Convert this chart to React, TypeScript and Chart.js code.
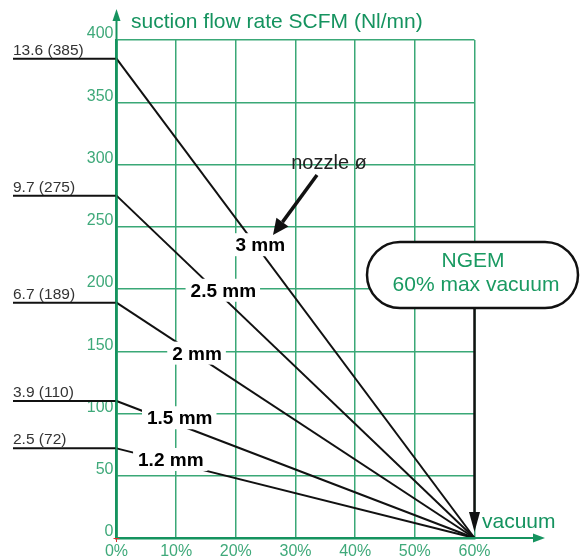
import React, { useEffect, useRef } from "react";
import { Chart, registerables } from "chart.js";

Chart.register(...registerables);

// ---- data ----
const vacuumMax = 60; // % vacuum where every curve reaches zero flow
const vacuumStep = 10;
const flowMax = 400;
const flowStep = 50;
const nozzleLabels = ["3 mm", "2.5 mm", "2 mm", "1.5 mm", "1.2 mm"];
const scfmValues = ["13.6", "9.7", "6.7", "3.9", "2.5"];
const nlmnValues = [385, 275, 189, 110, 72];
// where along each line its label sits (vacuum %) and a small vertical nudge
const labelAtVacuum = [24.1, 17.9, 13.5, 10.6, 9.1];
const labelNudge = [-6, -7, -2, -7, -2];

const axisTitleY = "suction flow rate SCFM (Nl/mn)";
const axisTitleX = "vacuum";
const noteText = "nozzle ø";
const boxLine1 = "NGEM";
const boxLine2 = "60% max vacuum";

const AXIS = "#15935f";
const GRID = "#3aa877";
const TICK = "#3fa97a";
const FONT = "'Liberation Sans', Arial, Helvetica, sans-serif";

function arrow(ctx: CanvasRenderingContext2D, x1: number, y1: number, x2: number, y2: number, color: string, lw: number, hl: number, hw: number) {
  const a = Math.atan2(y2 - y1, x2 - x1);
  const bx = x2 - Math.cos(a) * hl;
  const by = y2 - Math.sin(a) * hl;
  ctx.save();
  ctx.strokeStyle = color;
  ctx.fillStyle = color;
  ctx.lineWidth = lw;
  ctx.beginPath();
  ctx.moveTo(x1, y1);
  ctx.lineTo(bx, by);
  ctx.stroke();
  ctx.beginPath();
  ctx.moveTo(x2, y2);
  ctx.lineTo(bx + Math.sin(a) * hw, by - Math.cos(a) * hw);
  ctx.lineTo(bx - Math.sin(a) * hw, by + Math.cos(a) * hw);
  ctx.closePath();
  ctx.fill();
  ctx.restore();
}

const annotations = {
  id: "annotations",
  afterDatasetsDraw(chart: any) {
    const { ctx, chartArea, scales } = chart;
    const xs = scales.x;
    const ys = scales.y;
    ctx.save();

    // left leaders and their values
    nlmnValues.forEach((v, i) => {
      const y = ys.getPixelForValue(v);
      ctx.strokeStyle = "#111";
      ctx.lineWidth = 2;
      ctx.beginPath();
      ctx.moveTo(13, y);
      ctx.lineTo(chartArea.left, y);
      ctx.stroke();
      ctx.fillStyle = "#333";
      ctx.font = `15.5px ${FONT}`;
      ctx.textAlign = "left";
      ctx.textBaseline = "alphabetic";
      ctx.fillText(`${scfmValues[i]} (${v})`, 13, y - 4);
    });

    // nozzle labels on the lines
    nozzleLabels.forEach((lab, i) => {
      const xv = labelAtVacuum[i];
      const yv = nlmnValues[i] * (1 - xv / vacuumMax);
      const cx = xs.getPixelForValue(xv);
      const cy = ys.getPixelForValue(yv) + labelNudge[i];
      ctx.font = `bold 19px ${FONT}`;
      const w = ctx.measureText(lab).width;
      ctx.fillStyle = "#fff";
      ctx.fillRect(cx - w / 2 - 5, cy - 12, w + 9, 23);
      ctx.fillStyle = "#000";
      ctx.textAlign = "center";
      ctx.textBaseline = "middle";
      ctx.fillText(lab, cx, cy + 1);
    });

    // axis arrows
    arrow(ctx, chartArea.left, chartArea.bottom, chartArea.left, 9, AXIS, 2, 12, 4);
    arrow(ctx, chartArea.left, chartArea.bottom, 545, chartArea.bottom, AXIS, 2, 12, 4.5);

    // origin mark
    ctx.strokeStyle = "#e03030";
    ctx.lineWidth = 1;
    ctx.beginPath();
    ctx.moveTo(chartArea.left - 3, chartArea.bottom + 0.5);
    ctx.lineTo(chartArea.left + 3, chartArea.bottom + 0.5);
    ctx.moveTo(chartArea.left, chartArea.bottom);
    ctx.lineTo(chartArea.left, chartArea.bottom + 4);
    ctx.stroke();

    // axis titles
    ctx.fillStyle = AXIS;
    ctx.font = `21px ${FONT}`;
    ctx.textAlign = "left";
    ctx.textBaseline = "alphabetic";
    ctx.fillText(axisTitleY, 131, 28);
    ctx.fillText(axisTitleX, 482, 528);

    // nozzle note
    ctx.fillStyle = "#222";
    ctx.font = `20px ${FONT}`;
    ctx.textAlign = "center";
    ctx.fillText(noteText, 329, 169);
    arrow(ctx, 317, 175, 273, 235, "#111", 3.5, 16, 7.5);

    // NGEM box
    const x60 = xs.getPixelForValue(vacuumMax);
    const bl = 367, br = 578, bt = 242, bb = 308;
    const r = (bb - bt) / 2;
    ctx.beginPath();
    ctx.moveTo(bl + r, bt);
    ctx.lineTo(br - r, bt);
    ctx.arc(br - r, bt + r, r, -Math.PI / 2, Math.PI / 2);
    ctx.lineTo(bl + r, bb);
    ctx.arc(bl + r, bt + r, r, Math.PI / 2, (3 * Math.PI) / 2);
    ctx.closePath();
    ctx.fillStyle = "#fff";
    ctx.fill();
    ctx.strokeStyle = "#111";
    ctx.lineWidth = 2.5;
    ctx.stroke();
    ctx.fillStyle = "#1a9a62";
    ctx.font = `21px ${FONT}`;
    ctx.textAlign = "center";
    ctx.textBaseline = "alphabetic";
    ctx.fillText(boxLine1, 473, 267);
    ctx.fillText(boxLine2, 476, 291);
    arrow(ctx, x60, bb, x60, chartArea.bottom - 6, "#111", 2.5, 20, 5.5);

    ctx.restore();
  },
};

export default function App() {
  const ref = useRef<HTMLCanvasElement>(null);
  useEffect(() => {
    if (!ref.current) return;
    const datasets = nozzleLabels.map((lab, i) => ({
      label: lab,
      data: [
        { x: 0, y: nlmnValues[i] },
        { x: vacuumMax, y: 0 },
      ],
      borderColor: "#111",
      borderWidth: 2,
      pointRadius: 0,
      fill: false,
      tension: 0,
      clip: false as any,
    }));
    const chart = new Chart(ref.current, {
      type: "line",
      data: { datasets },
      options: {
        animation: false,
        responsive: false,
        events: [],
        layout: { padding: { top: 40, right: 105.5, left: 0, bottom: 0 } },
        plugins: { legend: { display: false }, tooltip: { enabled: false } },
        scales: {
          x: {
            type: "linear",
            min: 0,
            max: vacuumMax,
            afterFit: (s: any) => {
              s.height = 21;
            },
            ticks: {
              stepSize: vacuumStep,
              callback: (v: any) => `${v}%`,
              color: TICK,
              font: { size: 16, family: FONT },
              padding: 4,
              maxRotation: 0,
            },
            grid: { color: GRID, lineWidth: 1.5, drawTicks: false },
            border: { color: AXIS, width: 2.5 },
          },
          y: {
            type: "linear",
            min: 0,
            max: flowMax,
            afterFit: (s: any) => {
              s.width = 116.5;
            },
            ticks: {
              stepSize: flowStep,
              color: TICK,
              font: { size: 16, family: FONT },
              padding: 3,
              labelOffset: -6,
            },
            grid: { color: GRID, lineWidth: 1.5, drawTicks: false },
            border: { color: AXIS, width: 2.5 },
          },
        },
      },
      plugins: [annotations],
    });
    return () => chart.destroy();
  }, []);
  return (
    <div style={{ position: "absolute", left: 0, top: 0, width: 580, height: 559, background: "#fff" }}>
      <canvas ref={ref} width={580} height={559} style={{ display: "block" }} />
    </div>
  );
}
